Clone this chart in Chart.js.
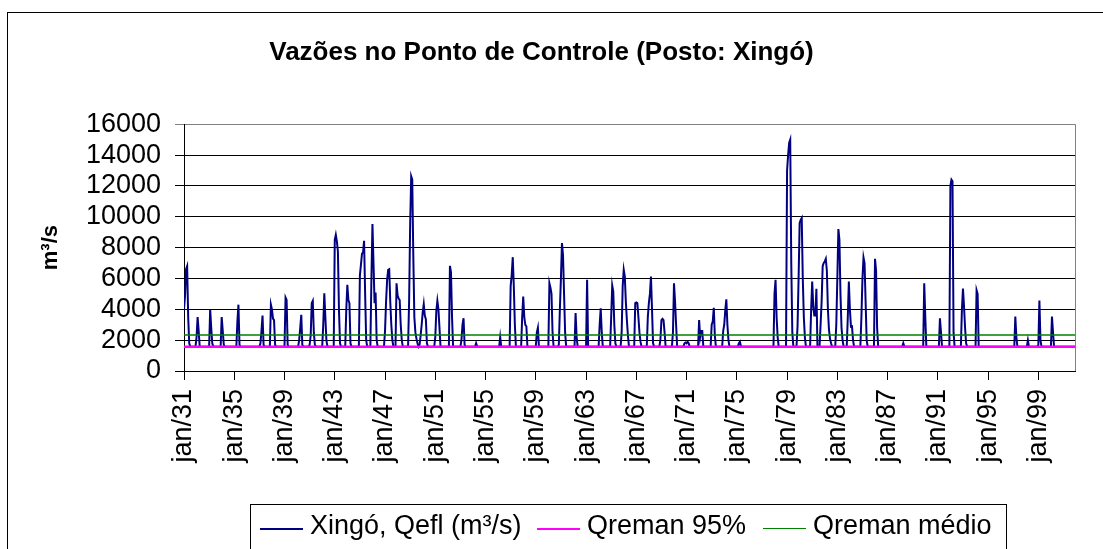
<!DOCTYPE html>
<html>
<head>
<meta charset="utf-8">
<script src="https://cdn.jsdelivr.net/npm/chart.js@4.4.0/dist/chart.umd.min.js"></script>
<style>
html, body { margin: 0; padding: 0; background: #fff; overflow: hidden; }
#wrap { position: relative; width: 1103px; height: 549px; overflow: hidden; }
#frame { position: absolute; left: 7px; top: 12px; width: 1200px; height: 700px; border: 1px solid #000; }
#chart { position: absolute; left: 0; top: 0; }
#legend { position: absolute; left: 250px; top: 504px; width: 755px; height: 100px; border: 1px solid #000;
          font-family: 'Liberation Sans', Arial, sans-serif; font-size: 27px; color: #000; }
.item { position: absolute; top: 7px; display: flex; align-items: center; line-height: 27px; white-space: nowrap; }
.swatch { width: 43px; height: 0; margin-right: 7px; position: relative; top: 3px; }
</style>
</head>
<body>
<div id="wrap">
  <div id="frame"></div>
  <canvas id="chart" width="1103" height="549"></canvas>
  <div id="legend"></div>
</div>
<script>
// Monthly series, Jan 1931 .. Dec 2001
const startYear = 1931;
const monthCount = 852;

// Wet-season events: first month index and the monthly flows that follow (m3/s)
// (between events the outflow sits on the 95% line)
const eventStart = [
  0, 11, 24, 35, 50, 72, 82, 96, 109, 119,
  132, 143, 154, 167, 178, 191, 202, 214, 239, 253,
  264, 278, 301, 311, 322, 336, 348, 357, 373, 384,
  396, 407, 417, 430, 442, 454, 466, 477, 491, 503,
  514, 529, 563, 575, 585, 598, 607, 622, 633, 646,
  659, 686, 706, 721, 731, 742, 756, 793, 805, 815,
  828, 851
];
const eventFlows = [
  [4000, 4900, 6600, 6800, 3500, 1800, 1580],
  [1580, 2200, 3500, 2600, 1580],
  [1580, 4000, 2800, 1800, 1580],
  [1580, 3500, 2600, 1700, 1580],
  [1580, 3200, 4300, 1700, 1580],
  [1580, 1800, 2600, 3600, 1700, 1580],
  [1580, 4300, 4000, 3400, 3300, 1700, 1580],
  [1580, 4760, 4600, 1700, 1580],
  [1580, 2000, 2800, 3640, 1700, 1580],
  [1580, 1700, 2300, 4400, 4550, 2500, 1700, 1580],
  [1580, 3000, 5040, 3500, 2000, 1580],
  [1580, 8500, 8830, 8400, 7750, 4000, 1800, 1580],
  [1580, 4000, 5590, 4600, 4400, 1800, 1580],
  [1580, 6200, 6900, 7600, 7700, 8440, 5000, 2000, 1580],
  [1580, 6000, 9530, 7000, 4400, 5090, 2000, 1580],
  [1580, 2600, 4500, 5900, 6560, 6600, 4500, 3000, 2000, 1580],
  [1580, 5690, 4900, 4700, 4600, 3000, 2000, 1580],
  [1580, 4500, 9500, 12620, 12400, 7500, 3500, 2500, 2100, 1800,
   1580, 1700, 2300, 3000, 3800, 4330, 3600, 3360, 1800, 1580],
  [1580, 2200, 3900, 4550, 4000, 2800, 1580],
  [1580, 6820, 6400, 3500, 1580],
  [1580, 2000, 3000, 3420, 1700, 1580],
  [1580, 1800, 1580],
  [1580, 2200, 1580],
  [1580, 5500, 6240, 7380, 5500, 3000, 1580],
  [1580, 3500, 4830, 3500, 2990, 2900, 1580],
  [1580, 2500, 2800, 1580],
  [1580, 5690, 5400, 5000, 2500, 1580],
  [1580, 1700, 4000, 6000, 8290, 7500, 5000, 2500, 1580],
  [1580, 3750, 2200, 1580],
  [1580, 5910, 1580],
  [1580, 3000, 4070, 2500, 1580],
  [1580, 3500, 5540, 5150, 3000, 1800, 1580],
  [1580, 2500, 5500, 6560, 6130, 4500, 3300, 2300, 1580],
  [1580, 4400, 4440, 4400, 3500, 2500, 1900, 1580],
  [1580, 3500, 4400, 5000, 6130, 4000, 1800, 1580],
  [1580, 2000, 3300, 3380, 3300, 2500, 1580],
  [1580, 2500, 5690, 4500, 3000, 1580],
  [1580, 1800, 1850, 1800, 1900, 1800, 1580],
  [1580, 3310, 2200, 2600, 2600, 1580],
  [1580, 3000, 3200, 4090, 2300, 1580],
  [1580, 2600, 3000, 3960, 4650, 3000, 2000, 1580],
  [1580, 1800, 1900, 1580],
  [1580, 5000, 5910, 3500, 2200, 1580],
  [1580, 13000, 14000, 14800, 15000, 7000, 2500, 1580],
  [1580, 2900, 6000, 9590, 9800, 9920, 6000, 3500, 2200, 1580],
  [1580, 4000, 5800, 4200, 3600, 3600, 5330, 1580],
  [1580, 3000, 4500, 6800, 7000, 7100, 7270, 6500, 4000, 2700, 2100, 1800, 1580],
  [1580, 3000, 6000, 9200, 8500, 5000, 2800, 2000, 1580],
  [1580, 3500, 5800, 4000, 2880, 2900, 2000, 1580],
  [1580, 3500, 6000, 7360, 7000, 4500, 2000, 1580],
  [1580, 7270, 6500, 2800, 1580],
  [1580, 1800, 1580],
  [1580, 5690, 3500, 1580],
  [1580, 3420, 2500, 1580],
  [1580, 12000, 12400, 12300, 2500, 1580],
  [1580, 4000, 5350, 4200, 2800, 1800, 1580],
  [1580, 5240, 5000, 1580],
  [1580, 3530, 2200, 1580],
  [1580, 2000, 1580],
  [1580, 1700, 4570, 2000, 1580],
  [1580, 3530, 2500, 1580],
  [1580]
];

const qreman95 = 1580;
const qremanMedio = 2340;

const seriesLabels = ['Xingó, Qefl (m³/s)', 'Qreman 95%', 'Qreman médio'];
const seriesColors = ['#000080', '#ff00ff', '#008000'];

const yMin = 0, yMax = 16000, yStep = 2000;
const xLabelStep = 48; // one label every 4 years

// build points
const flowPoints = [];
eventStart.forEach((m0, i) => {
  eventFlows[i].forEach((v, k) => flowPoints.push({x: m0 + k, y: v}));
});
const lastMonth = monthCount - 1;

Chart.defaults.font.family = "'Liberation Sans', Arial, sans-serif";
Chart.defaults.color = '#000';

const plotFrame = {
  id: 'plotFrame',
  beforeDatasetsDraw(chart) {
    const {ctx, chartArea: a} = chart;
    ctx.save();
    ctx.strokeStyle = '#808080';
    ctx.lineWidth = 1;
    ctx.beginPath();
    ctx.moveTo(Math.round(a.right) + 0.5, a.top);
    ctx.lineTo(Math.round(a.right) + 0.5, a.bottom);
    ctx.stroke();
    ctx.restore();
  }
};

const chart = new Chart(document.getElementById('chart'), {
  type: 'line',
  data: {
    datasets: [
      {
        label: seriesLabels[0],
        data: flowPoints,
        borderColor: seriesColors[0],
        borderWidth: 2,
        order: 3
      },
      {
        label: seriesLabels[1],
        data: [{x: 0, y: qreman95}, {x: lastMonth, y: qreman95}],
        borderColor: seriesColors[1],
        borderWidth: 2.5,
        order: 1
      },
      {
        label: seriesLabels[2],
        data: [{x: 0, y: qremanMedio}, {x: lastMonth, y: qremanMedio}],
        borderColor: seriesColors[2],
        borderWidth: 1.5,
        order: 2
      }
    ]
  },
  options: {
    responsive: false,
    animation: false,
    elements: {
      point: { radius: 0 },
      line: { tension: 0, fill: false }
    },
    layout: { padding: { left: 8, right: 28, top: 0, bottom: 0 } },
    scales: {
      x: {
        type: 'linear',
        min: 0,
        max: lastMonth,
        afterFit: (scale) => { scale.height = 178; },
        ticks: {
          stepSize: xLabelStep,
          includeBounds: false,
          autoSkip: false,
          minRotation: 90,
          maxRotation: 90,
          padding: 9,
          font: { size: 27 },
          callback: (value) => 'jan/' + String((startYear + value / 12) % 100).padStart(2, '0')
        },
        grid: { drawOnChartArea: false, drawTicks: true, tickLength: 9, color: '#000' },
        border: { color: '#000', width: 1 }
      },
      y: {
        min: yMin,
        max: yMax,
        afterFit: (scale) => { scale.width = 176; },
        ticks: {
          stepSize: yStep,
          autoSkip: false,
          padding: 14,
          font: { size: 27 },
          callback: (value) => String(value)
        },
        grid: {
          tickLength: 9,
          color: (c) => (c.tick && c.tick.value === yMax ? '#808080' : '#000')
        },
        border: { color: '#000', width: 1 },
        title: {
          display: true,
          text: 'm³/s',
          font: { size: 22, weight: 'bold' },
          padding: { top: 30, bottom: 0 }
        }
      }
    },
    plugins: {
      legend: { display: false },
      tooltip: { enabled: false },
      title: {
        display: true,
        text: 'Vazões no Ponto de Controle (Posto: Xingó)',
        font: { size: 26, weight: 'bold' },
        color: '#000',
        padding: { top: 37, bottom: 56 }
      }
    }
  },
  plugins: [plotFrame]
});

// legend box like the original
const legendLeft = [9, 286, 512];
const legendEl = document.getElementById('legend');
chart.data.datasets.forEach((ds, i) => {
  const item = document.createElement('div');
  item.className = 'item';
  item.style.left = legendLeft[i] + 'px';
  const sw = document.createElement('span');
  sw.className = 'swatch';
  sw.style.borderTop = Math.min(ds.borderWidth, 2) + 'px solid ' + ds.borderColor;
  const txt = document.createElement('span');
  txt.textContent = ds.label;
  item.appendChild(sw);
  item.appendChild(txt);
  legendEl.appendChild(item);
});
</script>
</body>
</html>
